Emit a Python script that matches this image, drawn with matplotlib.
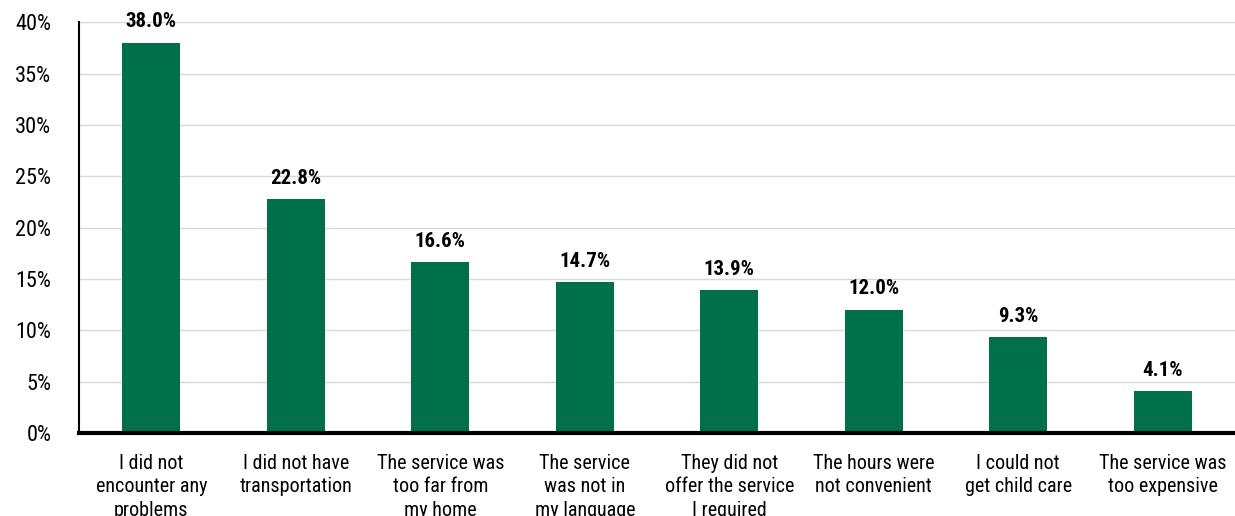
import matplotlib.pyplot as plt
from matplotlib import font_manager

categories = ['I did not\nencounter any\nproblems', 'I did not have\ntransportation',
              'The service was\ntoo far from\nmy home', 'The service\nwas not in\nmy language',
              'They did not\noffer the service\nI required', 'The hours were\nnot convenient',
              'I could not\nget child care', 'The service was\ntoo expensive']
values = [38.0, 22.8, 16.6, 14.7, 13.9, 12.0, 9.3, 4.1]
yticks = [0, 5, 10, 15, 20, 25, 30, 35, 40]

names = {f.name for f in font_manager.fontManager.ttflist}
font = 'Roboto Condensed' if 'Roboto Condensed' in names else 'DejaVu Sans'
plt.rcParams['font.family'] = [font, 'DejaVu Sans']

fig = plt.figure(figsize=(12.35, 5.16), dpi=100)
ax = fig.add_axes([0.064, 0.161, 0.936, 0.796])

x = range(len(categories))
bars = ax.bar(x, values, width=0.4, color='#00704A', zorder=3)
for b, v in zip(bars, values):
    ax.text(b.get_x() + b.get_width() / 2, v + 1.1, f'{v:.1f}%', ha='center', va='bottom',
            fontsize=15, fontweight='bold', clip_on=False)

ax.set_xlim(-0.5, len(categories) - 0.5)
ax.set_ylim(0, 40)
ax.set_yticks(yticks)
ax.set_yticklabels([f'{t}%' for t in yticks], fontsize=16)
ax.set_xticks(list(x))
ax.set_xticklabels(categories, fontsize=14.5, linespacing=1.3)
ax.tick_params(axis='both', length=0)
ax.tick_params(axis='y', pad=20)
ax.tick_params(axis='x', pad=15)
ax.grid(axis='y', color='#d9d9d9', linewidth=1, zorder=0)
for s in ['top', 'right']:
    ax.spines[s].set_visible(False)
ax.spines['left'].set_linewidth(1.5)
ax.spines['bottom'].set_linewidth(3)
ax.spines['bottom'].set_zorder(4)

fig.savefig('out.png', dpi=100)
